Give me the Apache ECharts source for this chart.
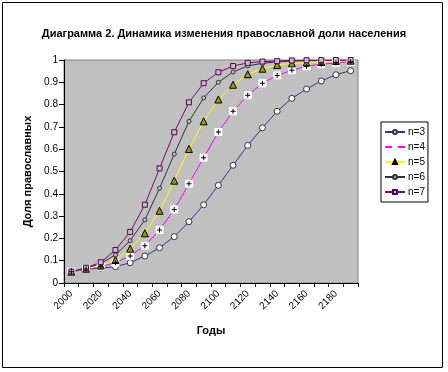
<!DOCTYPE html>
<html><head><meta charset="utf-8">
<script src="https://cdn.jsdelivr.net/npm/echarts@6/dist/echarts.min.js"></script>
<style>html,body{margin:0;padding:0;background:#fff}#c{width:448px;height:372px}</style>
</head><body><div id="c"></div>
<script>
var years = [2000,2010,2020,2030,2040,2050,2060,2070,2080,2090,2100,2110,2120,2130,2140,2150,2160,2170,2180,2190];
var yTicks = [0,0.1,0.2,0.3,0.4,0.5,0.6,0.7,0.8,0.9,1];
var n3 = [0.051,0.061,0.067,0.073,0.091,0.121,0.158,0.208,0.275,0.351,0.438,0.528,0.617,0.696,0.770,0.828,0.870,0.906,0.934,0.952];
var n4 = [0.051,0.063,0.073,0.091,0.121,0.167,0.238,0.330,0.445,0.562,0.677,0.770,0.842,0.896,0.931,0.954,0.972,0.981,0.987,0.992];
var n5 = [0.051,0.064,0.078,0.103,0.154,0.223,0.324,0.459,0.601,0.725,0.823,0.889,0.936,0.961,0.978,0.985,0.989,0.991,0.996,0.997];
var n6 = [0.051,0.066,0.088,0.126,0.190,0.283,0.425,0.578,0.725,0.830,0.900,0.946,0.974,0.985,0.992,0.995,0.997,0.998,0.999,0.999];
var n7 = [0.051,0.068,0.093,0.148,0.229,0.351,0.514,0.676,0.810,0.896,0.945,0.973,0.987,0.993,0.995,0.998,0.999,1,1,1];
var names = ['n=3','n=4','n=5','n=6','n=7'];

var font = '"Liberation Sans", Arial, sans-serif';
var chart = echarts.init(document.getElementById('c'), null, {renderer:'canvas'});
function ser(name, data, color, symbol, size, fill, border){
  return {name:name, type:'line', data:data, color:color, symbol:symbol, symbolSize:size,
    showSymbol:true, animation:false, z:3,
    lineStyle:{color:color, width:1},
    itemStyle:{color:fill, borderColor:border, borderWidth:1}};
}
chart.setOption({
  backgroundColor:'#fff',
  animation:false,
  title:{text:'Диаграмма 2. Динамика изменения православной доли населения', left:'center', top:23,
    textStyle:{fontFamily:font, fontSize:11, fontWeight:'bold', color:'#000'}},
  graphic:[{type:'rect', shape:{x:2.5,y:2.5,width:440,height:365}, style:{fill:'none', stroke:'#000', lineWidth:1}, silent:true, z:-1}],
  legend:{orient:'vertical', left:381, top:122, padding:[4,3,4,3], itemGap:3, itemWidth:20, itemHeight:5,
    borderColor:'#000', borderWidth:1, backgroundColor:'#fff', data:names,
    textStyle:{fontFamily:font, fontSize:10, color:'#000', padding:[0,0,0,-2], lineHeight:12}},
  grid:{left:64, right:90, top:60, bottom:89, show:true, backgroundColor:'#c0c0c0', borderColor:'#808080', borderWidth:1},
  xAxis:{type:'category', data:years, boundaryGap:true,
    name:'Годы', nameLocation:'middle', nameGap:42,
    nameTextStyle:{fontFamily:font, fontSize:11, fontWeight:'bold', color:'#000'},
    axisLine:{lineStyle:{color:'#000', width:1}},
    axisTick:{show:true, interval:0, length:4, lineStyle:{color:'#000'}},
    axisLabel:{interval:1, rotate:45, fontFamily:font, fontSize:10, color:'#000', margin:9},
    splitLine:{show:false}},
  yAxis:{type:'value', min:yTicks[0], max:yTicks[yTicks.length-1], interval:0.1,
    name:'Доля православных', nameLocation:'middle', nameGap:27,
    nameTextStyle:{fontFamily:font, fontSize:11, fontWeight:'bold', color:'#000'},
    axisLine:{show:true, lineStyle:{color:'#000', width:1}},
    axisTick:{show:true, length:5, lineStyle:{color:'#000'}},
    axisLabel:{fontFamily:font, fontSize:10, color:'#000', margin:6,
      formatter:function(v){return String(Math.round(v*10)/10);}},
    splitLine:{show:false}},
  series:[
    ser('n=3', n3, '#333399', 'circle', 6, '#fff', '#333333'),
    ser('n=4', n4, '#ff00ff', 'rect', 7, '#fff', '#fff'),
    {name:'n=4', type:'line', data:n4, symbol:'path://M4,0H6V4H10V6H6V10H4V6H0V4H4Z', symbolSize:5,
      lineStyle:{width:0, opacity:0}, itemStyle:{color:'#000'}, z:4, animation:false, legendHoverLink:false},
    ser('n=5', n5, '#ffff00', 'triangle', 7, '#999900', '#000'),
    ser('n=6', n6, '#333333', 'circle', 4, '#c0c0c0', '#333333'),
    ser('n=7', n7, '#800080', 'rect', 5, '#c0c0c0', '#5a005a')
  ]
});
</script></body></html>
